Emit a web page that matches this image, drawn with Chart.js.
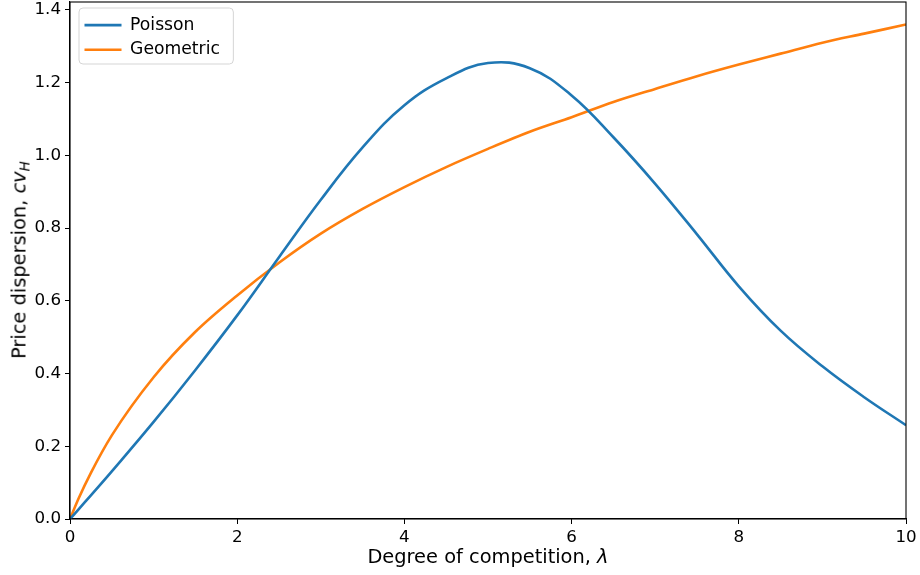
<!DOCTYPE html>
<html>
<head>
<meta charset="utf-8">
<script src="https://cdn.jsdelivr.net/npm/chart.js@4"></script>
<style>
  body { margin: 0; background: #fff; }
  #wrap { position: relative; width: 920px; height: 575px; font-family: 'DejaVu Sans', sans-serif; }
  canvas { position: absolute; left: 0; top: 0; }
  .ytitle { position: absolute; left: 19px; top: 260px; transform: translate(-50%, -50%) rotate(-90deg); font-size: 19.4px; white-space: nowrap; color: #000; }
  .xtitle { position: absolute; left: 488px; top: 556px; transform: translate(-50%, -50%); font-size: 19.4px; white-space: nowrap; color: #000; }
  sub { font-size: 13.5px; vertical-align: -4px; line-height: 0; }
</style>
</head>
<body>
<div id="wrap">
  <canvas id="cvChart" width="920" height="575"></canvas>
  <div class="ytitle">Price dispersion, <i>cv</i><sub><i>H</i></sub></div>
  <div class="xtitle">Degree of competition, <i>λ</i></div>
</div>
<script>
// values
const lambdaVals = [0, 0.1, 0.25, 0.5, 1, 1.5, 2, 2.5, 3, 3.5, 4, 4.5, 5, 5.5, 6, 6.5, 7, 7.5, 8, 8.5, 9, 9.5, 10];
const poissonVals = [0, 0.026, 0.065, 0.131, 0.267, 0.41, 0.56, 0.72, 0.878, 1.022, 1.138, 1.212, 1.254, 1.24, 1.165, 1.05, 0.922, 0.783, 0.64, 0.518, 0.42, 0.335, 0.258];
const geometricVals = [0, 0.055, 0.127, 0.23, 0.39, 0.515, 0.615, 0.705, 0.785, 0.853, 0.913, 0.968, 1.018, 1.065, 1.105, 1.147, 1.183, 1.218, 1.25, 1.28, 1.31, 1.335, 1.36];
const seriesNames = ['Poisson', 'Geometric'];
const xTicks = [0, 2, 4, 6, 8, 10];
const yTicks = [0, 0.2, 0.4, 0.6, 0.8, 1.0, 1.2, 1.4];

const toPoints = vals => lambdaVals.map((x, i) => ({ x, y: vals[i] }));
const tickFont = { family: 'DejaVu Sans', size: 16.7 };
const legendFont = { family: 'DejaVu Sans', size: 17.2 };

// box around plot + legend frame
const framePlugin = {
  id: 'frame',
  afterLayout(chart) {
    chart.legend.left += 7;
    chart.legend.top += 9;
  },
  beforeDraw(chart) {
    const lg = chart.legend, ctx = chart.ctx;
    ctx.save();
    ctx.font = '17.2px "DejaVu Sans"';
    const tw = Math.max(...seriesNames.map(n => ctx.measureText(n).width));
    const x0 = lg.left + 2, y0 = lg.top - 1;
    const w = 8 + 37 + 8.6 + tw + 11, h = 56;
    ctx.beginPath();
    ctx.roundRect(x0, y0, w, h, 4);
    ctx.fillStyle = 'rgba(255,255,255,0.8)';
    ctx.fill();
    ctx.strokeStyle = '#d5d5d5';
    ctx.lineWidth = 1;
    ctx.stroke();
    ctx.restore();
  },
  afterDraw(chart) {
    const a = chart.chartArea, ctx = chart.ctx;
    ctx.save();
    ctx.strokeStyle = '#000';
    ctx.lineWidth = 1.1;
    ctx.strokeRect(a.left, a.top, a.right - a.left, a.bottom - a.top);
    ctx.restore();
  }
};

new Chart(document.getElementById('cvChart'), {
  type: 'line',
  data: {
    datasets: [
      { label: seriesNames[0], data: toPoints(poissonVals), borderColor: '#1f77b4', backgroundColor: '#1f77b4', tension: 0.4 },
      { label: seriesNames[1], data: toPoints(geometricVals), borderColor: '#ff7f0e', backgroundColor: '#ff7f0e', cubicInterpolationMode: 'monotone' }
    ]
  },
  options: {
    responsive: false,
    animation: false,
    devicePixelRatio: 1,
    layout: { padding: { top: 2, right: 14, left: 0, bottom: 0 } },
    elements: {
      line: { borderWidth: 2.6, fill: false },
      point: { radius: 0, hoverRadius: 0 }
    },
    plugins: {
      tooltip: { enabled: false },
      legend: {
        position: 'chartArea',
        align: 'start',
        labels: {
          font: legendFont,
          color: '#000',
          boxWidth: 37,
          boxHeight: 2.6,
          padding: 7.5,
          generateLabels(chart) {
            return Chart.defaults.plugins.legend.labels.generateLabels(chart).map(l => ({ ...l, lineWidth: 0 }));
          }
        }
      }
    },
    scales: {
      x: {
        type: 'linear',
        min: 0,
        max: 10,
        afterBuildTicks: s => { s.ticks = xTicks.map(v => ({ value: v })); },
        afterFit: s => { s.height = 56; s.paddingLeft = 0; s.paddingRight = 0; },
        ticks: { font: tickFont, color: '#000', padding: 4, maxRotation: 0, callback: v => String(v) },
        grid: { drawOnChartArea: false, tickLength: 5, color: '#000', lineWidth: 1 },
        border: { color: '#000', width: 1.1 }
      },
      y: {
        type: 'linear',
        min: 0,
        max: 1.422,
        afterBuildTicks: s => { s.ticks = yTicks.map(v => ({ value: v })); },
        afterFit: s => { s.width = 70; s.paddingTop = 0; s.paddingBottom = 0; },
        ticks: { font: tickFont, color: '#000', padding: 4, callback: v => Number(v).toFixed(1) },
        grid: { drawOnChartArea: false, tickLength: 5, color: '#000', lineWidth: 1 },
        border: { color: '#000', width: 1.1 }
      }
    }
  },
  plugins: [framePlugin]
});
</script>
</body>
</html>
